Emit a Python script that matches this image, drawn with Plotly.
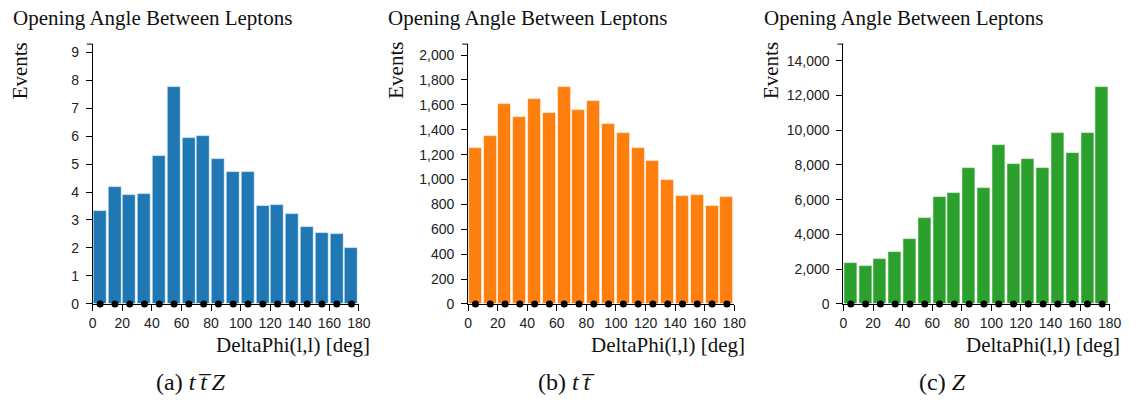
import plotly.graph_objects as go

W, H = 1138, 407

# DeltaPhi(l,l) binning: 18 bins of 10 degrees
bin_centers = [5, 15, 25, 35, 45, 55, 65, 75, 85, 95, 105, 115, 125, 135, 145, 155, 165, 175]
x_ticks = [0, 20, 40, 60, 80, 100, 120, 140, 160, 180]

# Expected events per bin
ttz_events = [3.32, 4.17, 3.88, 3.94, 5.27, 7.74, 5.91, 6.01, 5.18, 4.71, 4.71, 3.49, 3.54, 3.21, 2.76, 2.53, 2.48, 2.00]
tt_events = [1252, 1351, 1607, 1502, 1643, 1534, 1740, 1555, 1631, 1448, 1372, 1255, 1146, 997, 866, 876, 790, 855]
z_events = [2350, 2198, 2576, 2970, 3720, 4960, 6127, 6353, 7818, 6669, 9132, 8044, 8360, 7818, 9825, 8681, 9825, 12458]

# Observed data points (empty in every bin)
data_counts = [0, 0, 0, 0, 0, 0, 0, 0, 0, 0, 0, 0, 0, 0, 0, 0, 0, 0]

panels = [
    dict(values=ttz_events, color="#1f77b4", dtick=1, fmt="", caption="(a) <i>t</i>\u2009<i>t\u0305</i>\u2009<i>Z</i>"),
    dict(values=tt_events, color="#ff7f0e", dtick=200, fmt=",", caption="(b) <i>t</i>\u2009<i>t\u0305</i>"),
    dict(values=z_events, color="#2ca02c", dtick=2000, fmt=",", caption="(c) <i>Z</i>"),
]

title_text = "Opening Angle Between Leptons"
y_title = "Events"
x_title = "DeltaPhi(l,l) [deg]"

SERIF = "Liberation Serif, Times New Roman, serif"
SANS = "Liberation Sans, Arial, sans-serif"

# Pixel layout of each plot area
px_left0 = 90.0
px_step = 380.7
px_width = 270.0
px_top = 45.0
px_bottom = 310.0


def fx(px):
    return px / W


def fy(py):
    return 1 - py / H


fig = go.Figure()
annotations = []
shapes = []

for i, p in enumerate(panels):
    n = i + 1
    xa = "x" if n == 1 else f"x{n}"
    ya = "y" if n == 1 else f"y{n}"
    left = px_left0 + i * px_step
    right = left + px_width

    fig.add_trace(go.Bar(
        x=bin_centers, y=p["values"], width=8.8,
        marker=dict(color=p["color"], line=dict(color="rgba(255,255,255,0.55)", width=1)),
        xaxis=xa, yaxis=ya, showlegend=False,
    ))
    fig.add_trace(go.Scatter(
        x=bin_centers, y=data_counts, mode="markers",
        marker=dict(color="black", size=7),
        xaxis=xa, yaxis=ya, showlegend=False, cliponaxis=False,
    ))

    ymax = max(p["values"]) * 1.2
    axis_common = dict(
        showline=True, linecolor="black", linewidth=1,
        ticks="outside", ticklen=6, tickcolor="black", tickwidth=1,
        showgrid=False, zeroline=False,
        tickfont=dict(family=SANS, size=14, color="#222"),
    )
    fig.update_layout({
        ("xaxis" if n == 1 else f"xaxis{n}"): dict(
            domain=[fx(left), fx(right)], range=[0, 180],
            tickvals=x_ticks, anchor=ya, **axis_common,
        ),
        ("yaxis" if n == 1 else f"yaxis{n}"): dict(
            domain=[fy(px_bottom), fy(px_top)], range=[0, ymax],
            dtick=p["dtick"], tick0=0, tickformat=p["fmt"], anchor=xa,
            ticklabelstandoff=4, **axis_common,
        ),
    })

    # outer tick at the top end of the y axis
    shapes.append(dict(type="line", xref="paper", yref="paper",
                       x0=fx(left - 6), x1=fx(left), y0=fy(px_top), y1=fy(px_top),
                       line=dict(color="black", width=1)))

    annotations += [
        dict(text=title_text, xref="paper", yref="paper",
             x=fx(left - 83), y=fy(18.5), xanchor="left", yanchor="middle",
             showarrow=False, font=dict(family=SERIF, size=21, color="#111")),
        dict(text=y_title, xref="paper", yref="paper", textangle=-90,
             x=fx(left - 74), y=fy(72), xanchor="center", yanchor="middle",
             showarrow=False, font=dict(family=SERIF, size=21, color="#111")),
        dict(text=x_title, xref="paper", yref="paper",
             x=fx(right + 13), y=fy(352), xanchor="right", yanchor="middle",
             showarrow=False, font=dict(family=SERIF, size=21, color="#111")),
        dict(text=p["caption"], xref="paper", yref="paper",
             x=fx(left + 100), y=fy(390), xanchor="center", yanchor="middle",
             showarrow=False, font=dict(family=SERIF, size=24, color="#111")),
    ]

fig.update_layout(
    width=W, height=H,
    margin=dict(l=0, r=0, t=0, b=0),
    paper_bgcolor="white", plot_bgcolor="white",
    bargap=0, annotations=annotations, shapes=shapes,
)

fig.write_html("out.html")
